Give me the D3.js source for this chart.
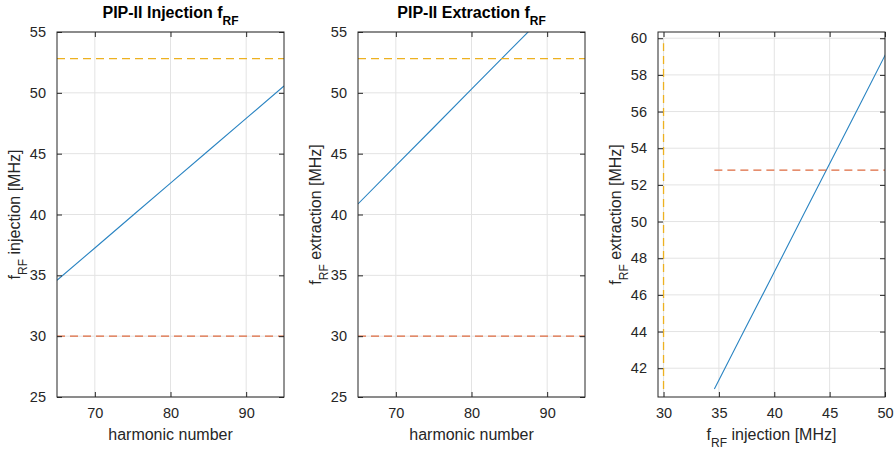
<!DOCTYPE html>
<html>
<head>
<meta charset="utf-8">
<script src="https://cdn.jsdelivr.net/npm/d3@7"></script>
<style>
  html, body { margin: 0; padding: 0; background: #fff; }
  svg { display: block; font-family: "Liberation Sans", Arial, Helvetica, sans-serif; }
</style>
</head>
<body>
<svg id="chart" width="896" height="452"></svg>
<script>
// Harmonic numbers and the RF frequencies [MHz] at injection and extraction
const harmonics   = [65, 70, 75, 80, 85, 90, 95];
const fInjection  = [34.59, 37.25, 39.92, 42.58, 45.24, 47.90, 50.56];
const fExtraction = [40.87, 44.01, 47.15, 50.30, 53.44, 56.58, 59.73];

// Reference RF frequencies [MHz]
const refLow  = 30.0;
const refHigh = 52.81;

// Tick values
const harmonicTicks = [70, 80, 90];
const freqTicks     = [25, 30, 35, 40, 45, 50, 55];
const injTicks      = [30, 35, 40, 45, 50];
const extTicks      = [42, 44, 46, 48, 50, 52, 54, 56, 58, 60];

const BLUE = "#2a84c2", ORANGE = "#dd6a3f", YELLOW = "#EDB120";
const AXIS = "#262626", GRID = "#e3e3e3";

const svg = d3.select("#chart");
const plotTop = 32, plotBottom = 397;

function panel(opt) {
  const x = d3.scaleLinear().domain(opt.xDomain).range([opt.left, opt.right]);
  const y = d3.scaleLinear().domain(opt.yDomain).range([plotBottom, plotTop]);
  const g = svg.append("g");
  const clipId = "clip" + opt.id;
  svg.append("clipPath").attr("id", clipId)
    .append("rect").attr("x", opt.left).attr("y", plotTop)
    .attr("width", opt.right - opt.left).attr("height", plotBottom - plotTop);

  // grid
  g.append("g").selectAll("line").data(opt.xTicks).join("line")
    .attr("x1", d => x(d)).attr("x2", d => x(d)).attr("y1", plotTop).attr("y2", plotBottom)
    .attr("stroke", GRID).attr("stroke-width", 1);
  g.append("g").selectAll("line").data(opt.yTicks).join("line")
    .attr("x1", opt.left).attr("x2", opt.right).attr("y1", d => y(d)).attr("y2", d => y(d))
    .attr("stroke", GRID).attr("stroke-width", 1);

  // series
  const plot = g.append("g").attr("clip-path", `url(#${clipId})`);
  opt.draw(plot, x, y);

  // axes (ticks pointing inward, mirrored on the opposite sides)
  const tk = 5;
  const xb = g.append("g").attr("transform", `translate(0,${plotBottom})`)
    .call(d3.axisBottom(x).tickValues(opt.xTicks).tickSizeInner(-tk).tickSizeOuter(0).tickPadding(11));
  const xt = g.append("g").attr("transform", `translate(0,${plotTop})`)
    .call(d3.axisTop(x).tickValues(opt.xTicks).tickSizeInner(-tk).tickSizeOuter(0).tickFormat(""));
  const yl = g.append("g").attr("transform", `translate(${opt.left},0)`)
    .call(d3.axisLeft(y).tickValues(opt.yTicks).tickSizeInner(-tk).tickSizeOuter(0).tickPadding(11));
  const yr = g.append("g").attr("transform", `translate(${opt.right},0)`)
    .call(d3.axisRight(y).tickValues(opt.yTicks).tickSizeInner(-tk).tickSizeOuter(0).tickFormat(""));
  [xb, xt, yl, yr].forEach(a => {
    a.select(".domain").remove();
    a.selectAll(".tick line").attr("stroke", AXIS);
    a.selectAll("text").attr("fill", AXIS).style("font-size", "14.5px")
      .style("font-family", "'Liberation Sans', Arial, sans-serif");
  });
  g.append("rect").attr("x", opt.left).attr("y", plotTop)
    .attr("width", opt.right - opt.left).attr("height", plotBottom - plotTop)
    .attr("fill", "none").attr("stroke", AXIS).attr("stroke-width", 1);

  const cx = (opt.left + opt.right) / 2, cy = (plotTop + plotBottom) / 2;

  // x label
  const xl = g.append("text").attr("x", cx).attr("y", 440).attr("text-anchor", "middle")
    .attr("fill", AXIS).style("font-size", "16px");
  opt.xLabel(xl);

  // y label
  const ylab = g.append("text")
    .attr("transform", `translate(${opt.left - 37},${cy}) rotate(-90)`)
    .attr("text-anchor", "middle").attr("fill", AXIS).style("font-size", "16px");
  opt.yLabel(ylab);

  // title
  if (opt.title) {
    const t = g.append("text").attr("x", cx).attr("y", 18).attr("text-anchor", "middle")
      .attr("fill", "#000").style("font-size", "16px").style("font-weight", "bold");
    opt.title(t);
  }
}

function fRF(textSel, rest) {
  textSel.append("tspan").text("f");
  textSel.append("tspan").attr("dy", 7).style("font-size", "12px").text("RF");
  if (rest) textSel.append("tspan").attr("dy", -7).text(rest);
}

const lineGen = (x, y, xs, ys) => d3.line().x((d, i) => x(xs[i])).y((d, i) => y(ys[i]))(xs);

function dashed(plot, x1, y1, x2, y2, color) {
  plot.append("line").attr("x1", x1).attr("y1", y1).attr("x2", x2).attr("y2", y2)
    .attr("stroke", color).attr("stroke-width", 1.3).attr("stroke-dasharray", "8,5");
}

// Panel 1: injection frequency vs harmonic number
panel({
  id: 1, left: 57, right: 284, xDomain: [65, 95], yDomain: [25, 55],
  xTicks: harmonicTicks, yTicks: freqTicks,
  draw: (p, x, y) => {
    p.append("path").attr("d", lineGen(x, y, harmonics, fInjection))
      .attr("fill", "none").attr("stroke", BLUE).attr("stroke-width", 1.1);
    dashed(p, x(harmonics[0]), y(refLow), x(harmonics[harmonics.length - 1]), y(refLow), ORANGE);
    dashed(p, x(harmonics[0]), y(refHigh), x(harmonics[harmonics.length - 1]), y(refHigh), YELLOW);
  },
  xLabel: t => t.text("harmonic number"),
  yLabel: t => fRF(t, " injection [MHz]"),
  title: t => { t.append("tspan").text("PIP-II Injection f"); t.append("tspan").attr("dy", 7).style("font-size", "12px").text("RF"); }
});

// Panel 2: extraction frequency vs harmonic number
panel({
  id: 2, left: 358, right: 585, xDomain: [65, 95], yDomain: [25, 55],
  xTicks: harmonicTicks, yTicks: freqTicks,
  draw: (p, x, y) => {
    p.append("path").attr("d", lineGen(x, y, harmonics, fExtraction))
      .attr("fill", "none").attr("stroke", BLUE).attr("stroke-width", 1.1);
    dashed(p, x(harmonics[0]), y(refLow), x(harmonics[harmonics.length - 1]), y(refLow), ORANGE);
    dashed(p, x(harmonics[0]), y(refHigh), x(harmonics[harmonics.length - 1]), y(refHigh), YELLOW);
  },
  xLabel: t => t.text("harmonic number"),
  yLabel: t => fRF(t, " extraction [MHz]"),
  title: t => { t.append("tspan").text("PIP-II Extraction f"); t.append("tspan").attr("dy", 7).style("font-size", "12px").text("RF"); }
});

// Panel 3: extraction frequency vs injection frequency
panel({
  id: 3, left: 658, right: 885, xDomain: [29.5, 50], yDomain: [40.43, 60.34],
  xTicks: injTicks, yTicks: extTicks,
  draw: (p, x, y) => {
    p.append("path").attr("d", lineGen(x, y, fInjection, fExtraction))
      .attr("fill", "none").attr("stroke", BLUE).attr("stroke-width", 1.1);
    const n = fInjection.length - 1;
    dashed(p, x(fInjection[0]), y(refHigh), x(fInjection[n]), y(refHigh), ORANGE);
    dashed(p, x(refLow), y(fExtraction[0]), x(refLow), y(fExtraction[n]), YELLOW);
  },
  xLabel: t => fRF(t, " injection [MHz]"),
  yLabel: t => fRF(t, " extraction [MHz]")
});
</script>
</body>
</html>
